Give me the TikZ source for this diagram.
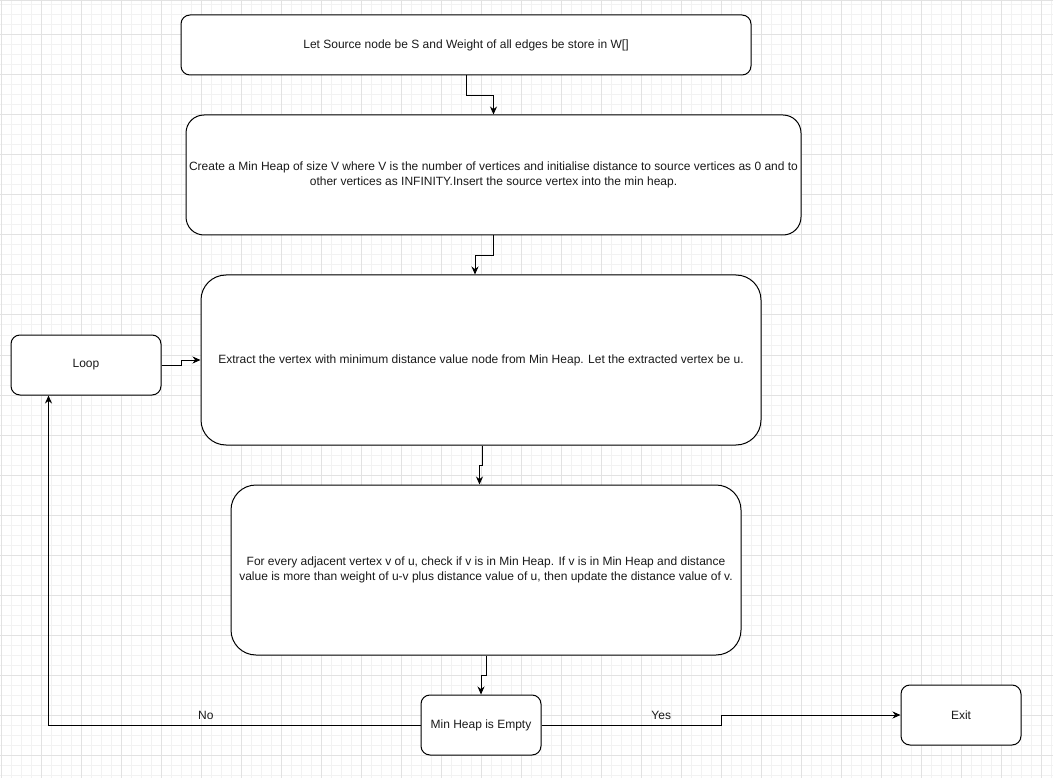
\documentclass[tikz,border=0pt]{standalone}
\usepackage{fontspec}
\setmainfont{Liberation Sans}
\usetikzlibrary{arrows.meta}
\definecolor{gridminor}{HTML}{F2F2F2}
\definecolor{gridmajor}{HTML}{E2E2E2}
\definecolor{txt}{HTML}{1A1A1A}
\begin{document}
\begin{tikzpicture}[x=1pt,y=-1pt,
  box/.style={draw=black,line width=1pt,fill=white,align=center,inner sep=2pt,
    font=\fontsize{12}{14.5}\selectfont,text=txt},
  conn/.style={draw=black,line width=1pt,-{Stealth[length=8pt,width=7pt]}},
  lbl/.style={font=\fontsize{12}{14.5}\selectfont,text=txt,inner sep=1pt}]
\useasboundingbox (0,0) rectangle (1053,778);
\fill[white] (0,0) rectangle (1053,778);
\foreach \x in {1,11,...,1051} \draw[gridminor,line width=1pt] (\x,0) -- (\x,778);
\foreach \y in {5,15,...,775} \draw[gridminor,line width=1pt] (0,\y) -- (1053,\y);
\foreach \x in {1,41,...,1041} \draw[gridmajor,line width=1pt] (\x,0) -- (\x,778);
\foreach \y in {35,75,...,755} \draw[gridmajor,line width=1pt] (0,\y) -- (1053,\y);
\draw[gridmajor,line width=1pt] (0,0.5) -- (1053,0.5);

\node[box,minimum width=570pt,minimum height=60pt,rounded corners=9pt] (b1) at (466,45)
  {Let Source node be S and Weight of all edges be store in W[]};
\node[box,minimum width=615pt,minimum height=120pt,rounded corners=18pt] (b2) at (493.5,175)
  {Create a Min Heap of size V where V is the number of vertices and initialise distance to source vertices as 0 and to\\
   other vertices as INFINITY.Insert the source vertex into the min heap.};
\node[box,minimum width=560pt,minimum height=170pt,rounded corners=25pt] (b3) at (481,360)
  {Extract the vertex with minimum distance value node from Min Heap. Let the extracted vertex be u.};
\node[box,minimum width=150pt,minimum height=60pt,rounded corners=9pt] (loop) at (86,365) {Loop};
\node[box,minimum width=510pt,minimum height=170pt,rounded corners=25pt] (b4) at (486,570)
  {For every adjacent vertex v of u, check if v is in Min Heap. If v is in Min Heap and distance\\
   value is more than weight of u-v plus distance value of u, then update the distance value of v.};
\node[box,minimum width=120pt,minimum height=60pt,rounded corners=9pt] (mh) at (481,725) {Min Heap is Empty};
\node[box,minimum width=120pt,minimum height=60pt,rounded corners=9pt] (exit) at (961,715) {Exit};

\coordinate (b3in) at ([xshift=-6pt]b3.north);
\coordinate (b3out) at ([xshift=1pt]b3.south);
\coordinate (b4in) at ([xshift=-6.5pt]b4.north);
\coordinate (loopin) at ([xshift=-37.5pt]loop.south);
\coordinate (nocorner) at (48.5,725);
\coordinate (yescorner) at (721,725);

\draw[conn] (b1.south) -- ++(0,20) -| (b2.north);
\draw[conn] (b2.south) -- ++(0,20) -| (b3in);
\draw[conn] (b3out) -- ++(0,20) -| (b4in);
\draw[conn] (b4.south) -- ++(0,20) -| (mh.north);
\draw[conn] (loop.east) -- ++(20,0) |- (b3.west);
\draw[conn] (mh.east) -- node[lbl,pos=0.667,yshift=10pt]{Yes} (yescorner) |- (exit.west);
\draw[conn] (mh.west) -- node[lbl,pos=0.577,yshift=10pt]{No} (nocorner) -- (loopin);
\end{tikzpicture}
\end{document}
